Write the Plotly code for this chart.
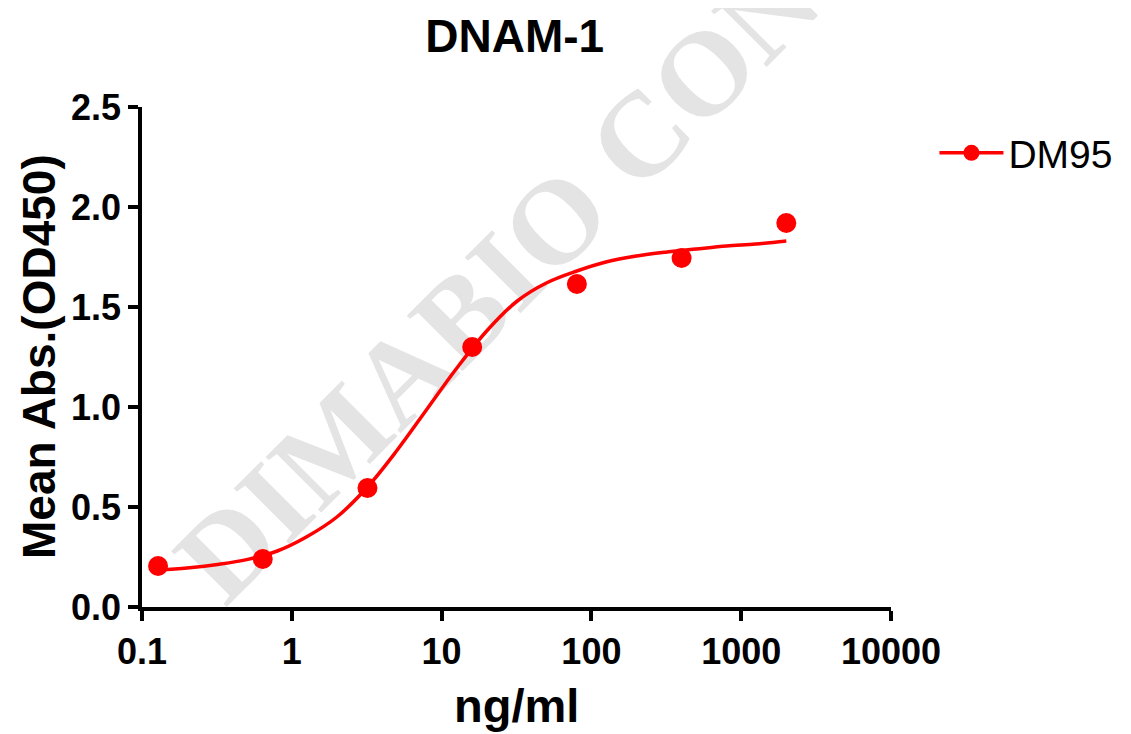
import plotly.graph_objs as go

# measured points (ng/ml vs OD450)
conc = [0.128, 0.64, 3.2, 16, 80, 400, 2000]
od450 = [0.205, 0.24, 0.595, 1.30, 1.615, 1.745, 1.92]

# fitted curve
fit_x = [0.128, 0.2, 0.32, 0.5, 0.8, 1.25, 2, 3.2, 5, 8, 12.5, 20, 32, 50,
         80, 125, 200, 320, 500, 800, 1250, 2000]
fit_y = [0.185, 0.195, 0.213, 0.237, 0.28, 0.35, 0.45, 0.60, 0.78, 0.99, 1.19,
         1.38, 1.53, 1.62, 1.68, 1.725, 1.755, 1.775, 1.79, 1.805, 1.815, 1.83]

x_ticks = [0.1, 1, 10, 100, 1000, 10000]
x_labels = ["0.1", "1", "10", "100", "1000", "10000"]

RED = "rgb(255,0,0)"
FONT = "Liberation Sans, Arial, sans-serif"

fig = go.Figure()

fig.add_trace(go.Scatter(
    x=fit_x, y=fit_y, mode="lines", line=dict(color=RED, width=3.5, shape="spline"),
    showlegend=False, hoverinfo="skip"))

fig.add_trace(go.Scatter(
    x=conc, y=od450, mode="markers", marker=dict(color=RED, size=20),
    showlegend=False, name="DM95"))

# legend entry (line + marker)
fig.add_trace(go.Scatter(
    x=[None], y=[None], mode="lines+markers", name="DM95",
    line=dict(color=RED, width=3.5), marker=dict(color=RED, size=20)))

# watermark, kept under the data
fig.add_shape(
    type="line", xref="paper", yref="paper", x0=0.211, y0=0.298, x1=0.713, y1=1.05,
    line=dict(color="rgba(0,0,0,0)", width=0), layer="below",
    label=dict(text="DIMABIO CON", textangle=-45, textposition="middle",
               xanchor="center", yanchor="middle", padding=0,
               font=dict(family="Liberation Serif, Times New Roman, serif", size=120,
                         color="rgb(228,228,228)", weight="bold")))

# axis titles
fig.add_annotation(
    text="Mean Abs.(OD450)", xref="paper", yref="paper", x=-0.1375, y=0.5,
    textangle=-90, showarrow=False, xanchor="center", yanchor="middle",
    font=dict(size=46, weight="bold", color="black"))
fig.add_annotation(
    text="ng/ml", xref="paper", yref="paper", x=0.5, y=-0.196,
    showarrow=False, xanchor="center", yanchor="middle",
    font=dict(size=47, weight="bold", color="black"))

fig.update_layout(
    width=1131, height=734,
    margin=dict(l=134, r=248, t=99, b=135),
    plot_bgcolor="white", paper_bgcolor="white",
    font=dict(family=FONT, color="black"),
    title=dict(text="DNAM-1", x=0.448, xanchor="center", y=0.962, yanchor="middle",
               font=dict(size=46, weight="bold", color="black")),
    legend=dict(x=1.058, y=0.908, xanchor="left", yanchor="middle",
                font=dict(size=39, color="black"), bgcolor="rgba(0,0,0,0)",
                itemwidth=64),
)

fig.update_xaxes(
    type="log", range=[-1, 4], tickvals=x_ticks, ticktext=x_labels,
    showline=True, linecolor="black", linewidth=3.5, showgrid=False, zeroline=False,
    ticks="outside", ticklen=10, tickwidth=3.5, tickcolor="black",
    tickfont=dict(size=36, weight="bold", color="black"))

fig.update_yaxes(
    range=[0, 2.5], dtick=0.5, tickformat=".1f",
    showline=True, linecolor="black", linewidth=3.5, showgrid=False, zeroline=False,
    ticks="outside", ticklen=10, tickwidth=3.5, tickcolor="black",
    tickfont=dict(size=36, weight="bold", color="black"))

fig.write_html("out.html")
